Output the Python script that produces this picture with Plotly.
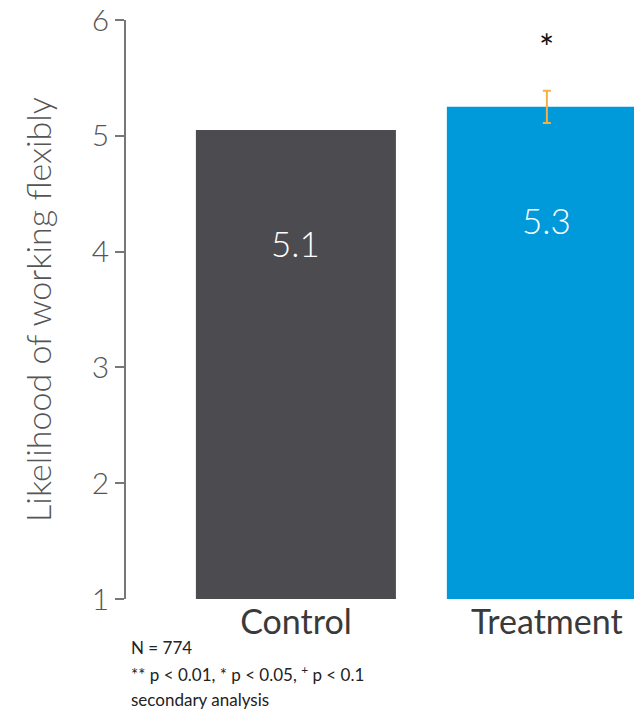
import plotly.graph_objects as go

categories = ["Control", "Treatment"]
means = [5.05, 5.25]
err = [None, 0.14]
labels = ["5.1", "5.3"]
significance = ["", "*"]
bar_colors = ["#4c4c50", "#0099da"]
y_ticks = [1, 2, 3, 4, 5, 6]

FONT = "Lato, 'Open Sans', sans-serif"
xs = list(range(len(categories)))

fig = go.Figure()
fig.add_trace(go.Bar(x=xs, y=[m - 1 for m in means], base=1, width=0.797,
                     marker=dict(color=bar_colors, line=dict(width=0)),
                     hoverinfo="skip", showlegend=False))

# error bars (only where available)
ex = [x for x, e in zip(xs, err) if e is not None]
ey = [m for m, e in zip(means, err) if e is not None]
ee = [e for e in err if e is not None]
fig.add_trace(go.Scatter(x=ex, y=ey, mode="markers", marker=dict(size=0.1, color="rgba(0,0,0,0)"),
                         error_y=dict(type="data", array=ee, visible=True, color="#f5b041",
                                      thickness=2, width=4),
                         hoverinfo="skip", showlegend=False))

for x, m, lab in zip(xs, means, labels):
    fig.add_annotation(x=x, y=m - 0.98, text=lab, showarrow=False,
                       font=dict(family=FONT, size=35, color="white", weight=300))

for x, m, e, s in zip(xs, means, err, significance):
    if s:
        fig.add_annotation(x=x, y=m + (e or 0) + 0.38, text=s, showarrow=False,
                           font=dict(family=FONT, size=36, color="#111111"))

foot = ["N = 774", "** p < 0.01, * p < 0.05, <sup>+</sup> p < 0.1", "secondary analysis"]
for i, t in enumerate(foot):
    fig.add_annotation(xref="paper", yref="paper", x=0.006, y=-0.083 - i * 0.045,
                       xanchor="left", yanchor="middle", text=t, showarrow=False,
                       font=dict(family=FONT, size=17, color="#222222"))

fig.update_layout(
    width=634, height=704,
    margin=dict(l=118, r=0, t=12, b=113, autoexpand=False),
    paper_bgcolor="white", plot_bgcolor="white",
    font=dict(family=FONT, color="#444444"),
    xaxis=dict(range=[-0.677, 1.379], tickmode="array", tickvals=xs, ticktext=categories,
               showline=False, showgrid=False, zeroline=False, ticks="", automargin=False,
               tickfont=dict(family=FONT, size=34, color="#3a3a3a")),
    yaxis=dict(range=[1, 6], tickmode="array", tickvals=y_ticks, showline=True,
               linecolor="#777777", linewidth=1.5, ticks="outside", ticklen=9,
               tickcolor="#777777", tickwidth=1.5, showgrid=False, zeroline=False,
               ticklabeloverflow="allow", automargin=False,
               tickfont=dict(family=FONT, size=30, color="#555555", weight=300),
               title=dict(text="Likelihood of working flexibly", standoff=30,
                          font=dict(family=FONT, size=34, color="#555555", weight=300))),
)

fig.write_html("out.html")
